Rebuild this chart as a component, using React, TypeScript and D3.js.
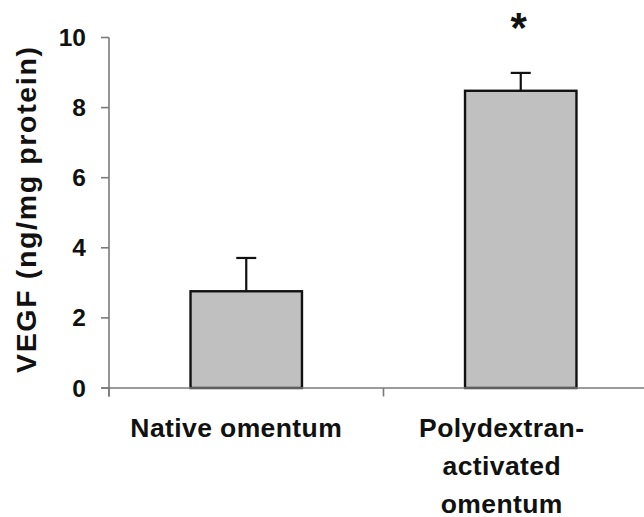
import React from "react";
import * as d3 from "d3";

const categories: string[][] = [["Native omentum"], ["Polydextran-", "activated", "omentum"]];
const categoryKeys = ["native", "polydextran"];
const means = [2.76, 8.48];
const errors = [0.95, 0.51];
const significant = [false, true];
const yTicks = [0, 2, 4, 6, 8, 10];
const yLabel = "VEGF (ng/mg protein)";

const W = 644;
const H = 517;
const font = "'Liberation Sans', Arial, Helvetica, sans-serif";

export default function App() {
  const y = d3.scaleLinear().domain([0, 10]).range([388, 37.5]);
  const x = d3.scaleBand<string>().domain(categoryKeys).range([109, 658]).padding(0);
  const bw = x.bandwidth() * 0.406;
  const labelDx = [-10, -19];
  const axisColor = "#7a7a7a";
  const boundaries = [...categoryKeys.map((k) => x(k) as number), 658];

  return (
    <svg width={W} height={H} style={{ position: "absolute", left: 0, top: 0, background: "#fff" }}>
      {categoryKeys.map((k, i) => {
        const cx = (x(k) as number) + x.bandwidth() / 2;
        return (
          <g key={k}>
            <line x1={cx} x2={cx} y1={y(means[i])} y2={y(means[i] + errors[i])} stroke="#111" strokeWidth={2.2} />
            <line x1={cx - 10} x2={cx + 10} y1={y(means[i] + errors[i])} y2={y(means[i] + errors[i])} stroke="#111" strokeWidth={2.2} />
            <rect x={cx - bw / 2} y={y(means[i])} width={bw} height={y(0) - y(means[i])} fill="#c0c0c0" stroke="#111" strokeWidth={2.4} />
            {significant[i] && (
              <text x={cx - 2} y={y(means[i] + errors[i]) - 31} textAnchor="middle" fontFamily={font} fontWeight="bold" fontSize={42} fill="#111">*</text>
            )}
            {categories[i].map((line, j) => (
              <text key={j} x={cx + labelDx[i]} y={436.5 + j * 38.3} textAnchor="middle" fontFamily={font} fontWeight="bold" fontSize={26.5} letterSpacing={0.4} fill="#111">{line}</text>
            ))}
          </g>
        );
      })}
      <line x1={109} x2={109} y1={y(10)} y2={396.5} stroke={axisColor} strokeWidth={1.6} />
      {yTicks.map((t) => (
        <g key={t}>
          <line x1={101} x2={109} y1={y(t)} y2={y(t)} stroke={axisColor} strokeWidth={1.6} />
          <text x={86} y={y(t) + 8.5} textAnchor="end" fontFamily={font} fontWeight="bold" fontSize={24.5} fill="#111">{t}</text>
        </g>
      ))}
      <line x1={101} x2={658} y1={y(0)} y2={y(0)} stroke={axisColor} strokeWidth={1.6} />
      {boundaries.map((b, i) => (
        <line key={i} x1={b} x2={b} y1={y(0)} y2={396.5} stroke={axisColor} strokeWidth={1.6} />
      ))}
      <text transform={`translate(36,210) rotate(-90)`} textAnchor="middle" fontFamily={font} fontWeight="bold" fontSize={28.5} fill="#111" textLength={326} lengthAdjust="spacing">{yLabel}</text>
    </svg>
  );
}
